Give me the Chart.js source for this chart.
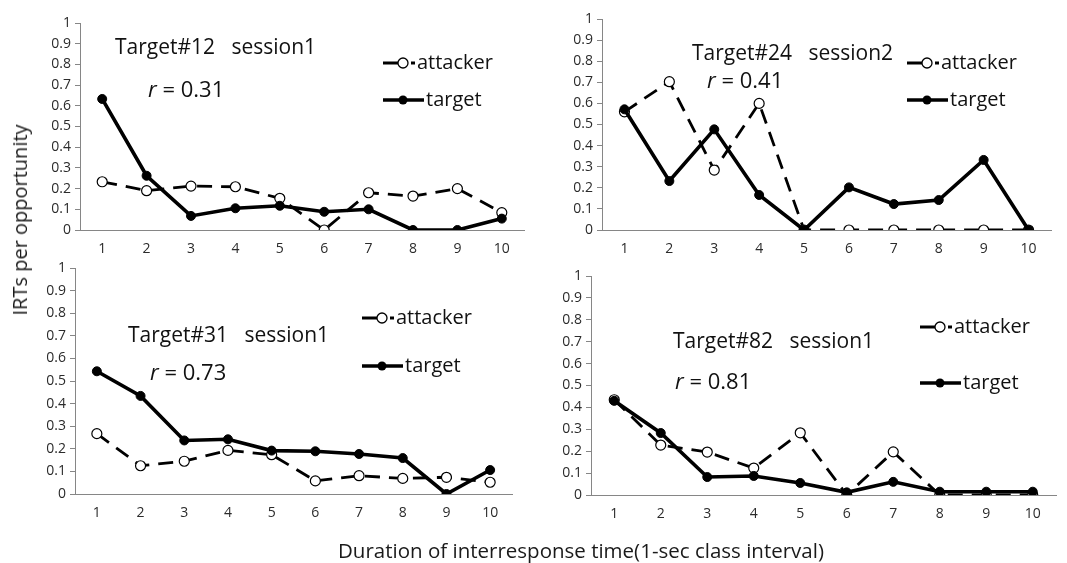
<!DOCTYPE html>
<html>
<head>
<meta charset="utf-8">
<script src="https://cdn.jsdelivr.net/npm/chart.js@4.4.1/dist/chart.umd.min.js"></script>
<style>
    body { margin: 0; background: #fff; width: 1067px; height: 563px; overflow: hidden; position: relative; font-family: 'Open Sans', sans-serif; }
    canvas { position: absolute; left: 0; top: 0; }
    .axis-title { position: absolute; color: #1a1a1a; white-space: nowrap; line-height: 1; }
    #y-title { left: 20px; top: 220px; font-size: 20px; transform: translate(-50%, -50%) rotate(-90deg); }
    #x-title { left: 338px; top: 550px; font-size: 20.5px; transform: translateY(-50%); }
</style>
</head>
<body>
<canvas id="p12" width="1067" height="563"></canvas>
<canvas id="p24" width="1067" height="563"></canvas>
<canvas id="p31" width="1067" height="563"></canvas>
<canvas id="p82" width="1067" height="563"></canvas>
<div class="axis-title" id="y-title">IRTs per opportunity</div>
<div class="axis-title" id="x-title">Duration of interresponse time(1-sec class interval)</div>
<script>
// IRT per opportunity, attacker vs target, 4 panels

const xLabels = ['1', '2', '3', '4', '5', '6', '7', '8', '9', '10'];
const yTickLabels = ['0', '0.1', '0.2', '0.3', '0.4', '0.5', '0.6', '0.7', '0.8', '0.9', '1'];

// Target#12 session1
const t12Attacker = [0.233, 0.19, 0.212, 0.209, 0.153, 0, 0.18, 0.164, 0.2, 0.084];
const t12Target = [0.633, 0.262, 0.068, 0.105, 0.117, 0.088, 0.1, 0, 0, 0.055];
// Target#24 session2
const t24Attacker = [0.56, 0.703, 0.284, 0.6, 0, 0, 0, 0, 0, 0];
const t24Target = [0.572, 0.232, 0.477, 0.166, 0, 0.202, 0.123, 0.142, 0.332, 0];
// Target#31 session1
const t31Attacker = [0.267, 0.125, 0.145, 0.193, 0.174, 0.058, 0.081, 0.069, 0.074, 0.052];
const t31Target = [0.543, 0.434, 0.237, 0.242, 0.192, 0.189, 0.177, 0.159, 0, 0.106];
// Target#82 session1
const t82Attacker = [0.435, 0.228, 0.196, 0.123, 0.284, 0, 0.197, 0, 0, 0];
const t82Target = [0.43, 0.283, 0.082, 0.087, 0.055, 0.012, 0.06, 0.015, 0.015, 0.015];

const panelTitles = ['Target#12   session1', 'Target#24   session2', 'Target#31   session1', 'Target#82   session1'];
const rValues = ['0.31', '0.41', '0.73', '0.81'];
const seriesNames = ['attacker', 'target'];

const PAGE_W = 1067;
const PAGE_H = 563;
const Y_AXIS_W = 42;
const X_AXIS_H = 30;
const AXIS_COLOR = '#868686';
const TICK_COLOR = '#2b2b2b';
const FONT = "'Open Sans', sans-serif";

// chart area boxes + where the notes sit (page pixels)
const PANELS = [
    { id: 'p12', attacker: t12Attacker, target: t12Target,
      area: { left: 80, top: 23, right: 524, bottom: 230 },
      title: [115, 48], r: [148, 91], legend: [383, 63, 100] },
    { id: 'p24', attacker: t24Attacker, target: t24Target,
      area: { left: 602, top: 19, right: 1051, bottom: 230 },
      title: [692, 54], r: [707, 82], legend: [907, 63, 100] },
    { id: 'p31', attacker: t31Attacker, target: t31Target,
      area: { left: 75, top: 268, right: 512, bottom: 494 },
      title: [128, 336], r: [150, 374], legend: [362, 318, 366] },
    { id: 'p82', attacker: t82Attacker, target: t82Target,
      area: { left: 591, top: 276, right: 1056, bottom: 495 },
      title: [673, 342], r: [675, 383], legend: [920, 327, 383] }
];

/**
 * Draws the in-plot title, r value and the little legend
 */
const panelNotes = {
    id: 'panelNotes',
    afterDraw(chart, args, opts) {
        const ctx = chart.ctx;
        ctx.save();
        ctx.fillStyle = '#111';
        ctx.textBaseline = 'middle';
        ctx.textAlign = 'left';

        ctx.font = `21px ${FONT}`;
        ctx.fillText(opts.title, opts.titlePos[0], opts.titlePos[1]);

        // italic r, then the value
        ctx.font = `italic 22px ${FONT}`;
        ctx.fillText('r', opts.rPos[0], opts.rPos[1]);
        const rw = ctx.measureText('r').width;
        ctx.font = `22px ${FONT}`;
        ctx.fillText(' = ' + opts.r, opts.rPos[0] + rw, opts.rPos[1]);

        const [x0, ya, yt] = opts.legend;
        ctx.strokeStyle = '#000';
        ctx.lineCap = 'butt';

        // attacker: dash, open circle, short dash
        ctx.lineWidth = 3;
        ctx.beginPath();
        ctx.moveTo(x0, ya); ctx.lineTo(x0 + 15, ya);
        ctx.moveTo(x0 + 28, ya); ctx.lineTo(x0 + 32, ya);
        ctx.stroke();
        ctx.lineWidth = 1.3;
        ctx.fillStyle = '#fff';
        ctx.beginPath();
        ctx.arc(x0 + 20, ya, 5, 0, Math.PI * 2);
        ctx.fill(); ctx.stroke();

        // target: solid line with filled dot
        ctx.lineWidth = 3.5;
        ctx.beginPath();
        ctx.moveTo(x0, yt); ctx.lineTo(x0 + 41, yt);
        ctx.stroke();
        ctx.fillStyle = '#000';
        ctx.beginPath();
        ctx.arc(x0 + 20, yt, 4.5, 0, Math.PI * 2);
        ctx.fill();

        ctx.fillStyle = '#111';
        ctx.font = `20px ${FONT}`;
        ctx.fillText(seriesNames[0], x0 + 34, ya);
        ctx.fillText(seriesNames[1], x0 + 43, yt);
        ctx.restore();
    }
};

function createPanel(panel, idx) {
    const canvas = document.getElementById(panel.id);
    const a = panel.area;

    return new Chart(canvas.getContext('2d'), {
        type: 'line',
        data: {
            labels: xLabels,
            datasets: [{
                label: seriesNames[1],
                data: panel.target,
                borderColor: '#000',
                borderWidth: 3.6,
                pointRadius: 4.5,
                pointBackgroundColor: '#000',
                pointBorderColor: '#000',
                pointBorderWidth: 1,
                tension: 0,
                order: 0
            }, {
                label: seriesNames[0],
                data: panel.attacker,
                borderColor: '#000',
                borderWidth: 2.8,
                borderDash: [15, 9],
                pointRadius: 5,
                pointBackgroundColor: '#fff',
                pointBorderColor: '#000',
                pointBorderWidth: 1.2,
                tension: 0,
                order: 1
            }]
        },
        options: {
            responsive: false,
            animation: false,
            events: [],
            layout: {
                padding: {
                    left: a.left - Y_AXIS_W,
                    top: a.top,
                    right: PAGE_W - a.right,
                    bottom: PAGE_H - a.bottom - X_AXIS_H
                }
            },
            plugins: {
                legend: { display: false },
                tooltip: { enabled: false },
                panelNotes: {
                    title: panelTitles[idx],
                    titlePos: panel.title,
                    r: rValues[idx],
                    rPos: panel.r,
                    legend: panel.legend
                }
            },
            scales: {
                x: {
                    offset: true,
                    grid: { display: false, drawTicks: false },
                    border: { display: true, color: AXIS_COLOR, width: 1 },
                    ticks: { color: TICK_COLOR, padding: 11, font: { family: FONT, size: 14 }, maxRotation: 0 },
                    afterFit: (s) => { s.height = X_AXIS_H; }
                },
                y: {
                    min: 0,
                    max: 1,
                    grid: { display: true, drawOnChartArea: false, drawTicks: true, tickLength: 5, color: AXIS_COLOR },
                    border: { display: true, color: AXIS_COLOR, width: 1 },
                    ticks: {
                        stepSize: 0.1,
                        color: TICK_COLOR,
                        padding: 4,
                        font: { family: FONT, size: 14 },
                        callback: (v, i) => yTickLabels[i]
                    },
                    afterFit: (s) => { s.width = Y_AXIS_W; }
                }
            }
        },
        plugins: [panelNotes]
    });
}

PANELS.forEach(createPanel);
</script>
</body>
</html>
